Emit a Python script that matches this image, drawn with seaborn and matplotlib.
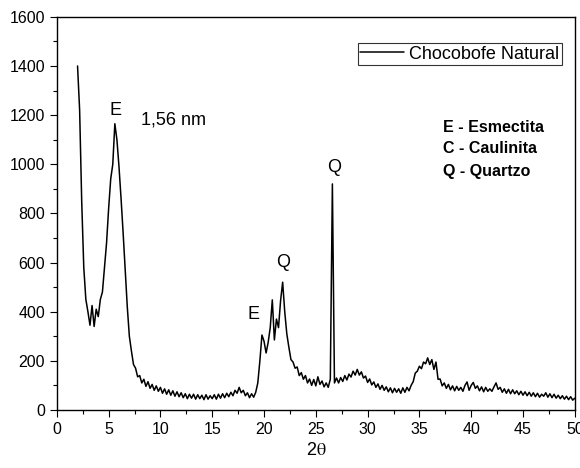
"""
Difratograma de raios X da argila Chocobofe natural, redesenhado com seaborn.
"""
import numpy as np
import pandas as pd
import matplotlib
matplotlib.use("Agg")
import matplotlib.pyplot as plt
import seaborn as sns
from matplotlib.ticker import MultipleLocator

# grade de varredura, 2.0 a 50.0 graus em passos de 0.2
two_theta = np.round(np.arange(2.0, 50.01, 0.2), 1)

# intensidades, 5 por grau
counts = [
    1400, 1220, 850, 580, 450,     # 2
    400, 345, 425, 340, 410,       # 3
    380, 450, 480, 580, 680,       # 4
    820, 940, 1000, 1165, 1100,    # 5
    990, 860, 720, 570, 420,       # 6
    300, 240, 185, 170, 135,       # 7
    140, 110, 125, 96, 115,        # 8
    88, 104, 80, 98, 76,           # 9
    92, 68, 86, 64, 82,            # 10
    60, 78, 56, 74, 54,            # 11
    70, 50, 66, 46, 64,            # 12
    48, 64, 44, 62, 46,            # 13
    60, 42, 62, 44, 58,            # 14
    46, 62, 44, 64, 48,            # 15
    66, 50, 68, 54, 72,            # 16
    58, 80, 68, 92, 70,            # 17
    80, 58, 70, 50, 66,            # 18
    52, 72, 110, 200, 305,         # 19
    280, 232, 275, 335, 448,       # 20
    285, 370, 335, 445, 520,       # 21
    400, 310, 255, 205, 195,       # 22
    170, 175, 140, 152, 125,       # 23
    140, 110, 126, 100, 124,       # 24
    98, 135, 104, 118, 94,         # 25
    110, 92, 125, 920, 110,        # 26
    130, 110, 132, 116, 140,       # 27
    122, 146, 134, 158, 142,       # 28
    165, 142, 155, 130, 138,       # 29
    112, 126, 102, 114, 92,        # 30
    106, 84, 100, 80, 94,          # 31
    74, 90, 70, 88, 72,            # 32
    86, 68, 90, 72, 92,            # 33
    78, 100, 115, 150, 158,        # 34
    178, 168, 195, 188, 212,       # 35
    185, 205, 165, 195, 125,       # 36
    126, 98, 110, 88, 104,         # 37
    82, 98, 78, 96, 80,            # 38
    92, 76, 100, 114, 80,          # 39
    100, 112, 88, 98, 78,          # 40
    94, 74, 92, 76, 86,            # 41
    76, 94, 110, 84, 92,           # 42
    72, 86, 68, 84, 66,            # 43
    82, 66, 78, 62, 76,            # 44
    60, 74, 58, 72, 56,            # 45
    70, 54, 68, 52, 64,            # 46
    56, 70, 52, 66, 50,            # 47
    64, 48, 60, 46, 58,            # 48
    44, 56, 42, 54, 40,            # 49
    48,                            # 50
]

# rotulos dos picos
peak_labels = ["E", "E", "Q", "Q"]
peak_x = [5.7, 19.0, 21.8, 26.8]
peak_y = [1220, 390, 600, 985]

phase_lines = ["E - Esmectita", "C - Caulinita", "Q - Quartzo"]
phase_y = [1150, 1065, 970]


def main():
    sns.set_style("ticks")
    plt.rcParams["font.family"] = ["Liberation Sans", "DejaVu Sans"]
    plt.rcParams["mathtext.fontset"] = "stix"
    plt.rcParams["text.color"] = "black"
    plt.rcParams["axes.labelcolor"] = "black"

    df = pd.DataFrame({"two_theta": two_theta, "counts": counts})

    fig = plt.figure(figsize=(5.8, 4.68), dpi=100)
    ax = fig.add_axes([0.098, 0.124, 0.893, 0.840])

    sns.lineplot(data=df, x="two_theta", y="counts", color="black",
                 linewidth=1.1, label="Chocobofe Natural", ax=ax)

    ax.set_xlim(0, 50)
    ax.set_ylim(0, 1600)
    ax.xaxis.set_major_locator(MultipleLocator(5))
    ax.xaxis.set_minor_locator(MultipleLocator(2.5))
    ax.yaxis.set_major_locator(MultipleLocator(200))
    ax.yaxis.set_minor_locator(MultipleLocator(100))
    ax.tick_params(which="major", direction="out", length=5, width=0.8,
                   labelsize=11.5, colors="black")
    ax.tick_params(which="minor", direction="out", length=3, width=0.8,
                   colors="black")
    for s in ax.spines.values():
        s.set_visible(True)
        s.set_linewidth(1.0)
        s.set_color("black")

    ax.set_xlabel(r"2$\mathrm{\theta}$", fontsize=13, labelpad=4,
                  color="black")
    ax.set_ylabel("")

    for lab, x, y in zip(peak_labels, peak_x, peak_y):
        ax.text(x, y, lab, fontsize=13, ha="center", va="center",
                color="black")
    ax.text(11.3, 1180, "1,56 nm", fontsize=13, ha="center", va="center",
            color="black")

    for lab, y in zip(phase_lines, phase_y):
        ax.text(37.3, y, lab, fontsize=11.5, fontweight="bold",
                ha="left", va="center", color="black")

    leg = ax.legend(loc="upper right", bbox_to_anchor=(0.975, 0.934),
                    fontsize=13, frameon=True, fancybox=False,
                    handlelength=2.4, borderpad=0.15, borderaxespad=0,
                    handletextpad=0.3)
    leg.get_frame().set_edgecolor("black")
    leg.get_frame().set_linewidth(0.8)
    for t in leg.get_texts():
        t.set_color("black")

    fig.savefig("out.png", dpi=100)


if __name__ == "__main__":
    main()
